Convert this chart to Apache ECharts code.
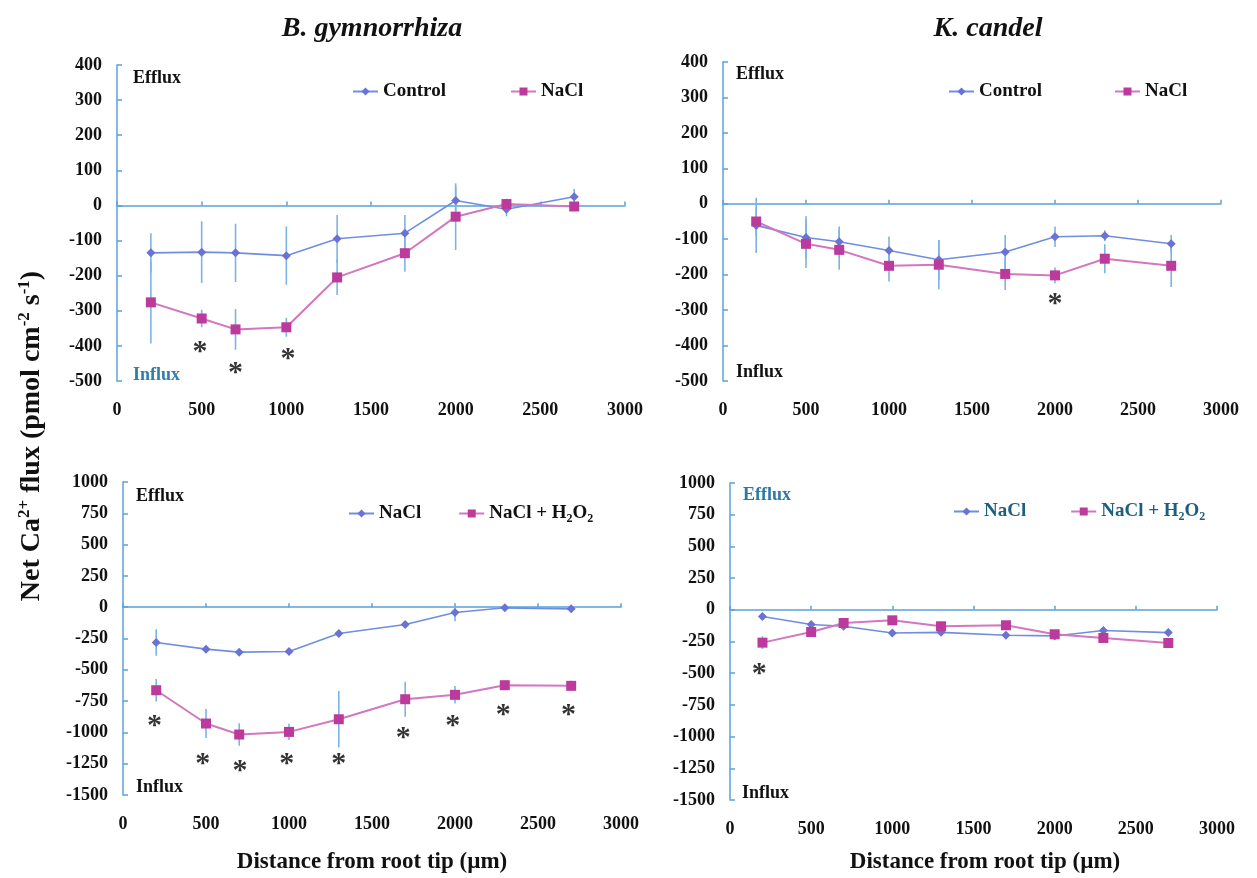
<!DOCTYPE html>
<html>
<head>
<meta charset="utf-8">
<script src="https://cdn.jsdelivr.net/npm/echarts@6/dist/echarts.min.js"></script>
<style>
html,body{margin:0;padding:0;background:#fff;}
#chart{width:1257px;height:878px;}
</style>
</head>
<body>
<div id="chart"></div>
<script>
// ---------------- data ----------------
const distances = [200, 500, 700, 1000, 1300, 1700, 2000, 2300, 2700];

// B. gymnorrhiza, Control vs NaCl
const bgControl    = [-135, -133, -135, -143, -95, -79, 14, -11, 25];
const bgControlErr = [56, 88, 83, 83, 68, 52, 40, 20, 22];
const bgNaCl       = [-276, -322, -353, -347, -205, -136, -32, 4, -3];
const bgNaClErr    = [117, 25, 58, 27, 50, 52, 95, 15, 10];

// K. candel, Control vs NaCl
const kcControl    = [-61, -95, -107, -132, -158, -136, -93, -90, -113];
const kcControlErr = [78, 60, 43, 40, 56, 48, 29, 15, 25];
const kcNaCl       = [-50, -113, -130, -175, -172, -198, -202, -155, -175];
const kcNaClErr    = [40, 68, 56, 44, 69, 45, 22, 41, 60];

// B. gymnorrhiza, NaCl vs NaCl + H2O2
const bgNaCl2      = [-282, -335, -359, -354, -210, -138, -42, -5, -13];
const bgNaCl2Err   = [105, 20, 20, 20, 20, 20, 70, 10, 10];
const bgH2O2       = [-663, -929, -1017, -996, -895, -735, -700, -623, -628];
const bgH2O2Err    = [90, 115, 90, 65, 225, 140, 70, 30, 40];

// K. candel, NaCl vs NaCl + H2O2
const kcNaCl2      = [-53, -116, -130, -183, -178, -201, -206, -163, -180];
const kcNaCl2Err   = [20, 25, 20, 20, 25, 20, 25, 25, 30];
const kcH2O2       = [-259, -175, -104, -83, -130, -122, -193, -222, -262];
const kcH2O2Err    = [50, 40, 25, 30, 30, 30, 30, 40, 40];

// significance asterisks [distance, flux]
const sig1 = [[490, -400], [700, -460], [1010, -420]];
const sig2 = [[2000, -266]];
const sig3 = [[190, -903], [480, -1209], [705, -1262], [986, -1209], [1299, -1209], [1689, -996], [1986, -903], [2291, -815], [2683, -815]];
const sig4 = [[180, -464]];

// ---------------- styling ----------------
const FONT = '"Liberation Serif", "Times New Roman", serif';
const AXIS = '#5aa3dc';
const BLUE_LINE = '#6f8ee0', BLUE_MARK = '#6a72d2';
const MAG_LINE = '#d277c0', MAG_MARK = '#bc3a9c';
const ERR = '#7db3e3';

const grids = [
  {left: 117, top: 65, width: 508, height: 316},
  {left: 723, top: 62, width: 498, height: 319},
  {left: 123, top: 482, width: 498, height: 313},
  {left: 730, top: 483, width: 487, height: 317}
];
const yRanges = [
  {min: -500, max: 400, interval: 100},
  {min: -500, max: 400, interval: 100},
  {min: -1500, max: 1000, interval: 250},
  {min: -1500, max: 1000, interval: 250}
];
const plain = v => String(v);

const xAxis = [], yAxis = [];
grids.forEach((g, i) => {
  xAxis.push({
    type: 'value', gridIndex: i, min: 0, max: 3000, interval: 500, position: 'bottom',
    axisLine: {show: false, onZero: false}, axisTick: {show: false}, splitLine: {show: false},
    axisLabel: {margin: 20, formatter: plain, fontFamily: FONT, fontWeight: 'bold', fontSize: 18, color: '#111'}
  });
  xAxis.push({
    type: 'value', gridIndex: i, min: 0, max: 3000, interval: 500, position: 'top',
    axisLine: {show: true, onZero: true, lineStyle: {color: AXIS, width: 1.5}},
    axisTick: {show: true, inside: false, length: 4, lineStyle: {color: AXIS, width: 1.5}},
    axisLabel: {show: false}, splitLine: {show: false}
  });
  yAxis.push(Object.assign({
    type: 'value', gridIndex: i,
    axisLine: {show: true, onZero: false, lineStyle: {color: AXIS, width: 1.5}},
    axisTick: {show: true, inside: true, length: 5, lineStyle: {color: AXIS, width: 1.5}},
    splitLine: {show: false},
    axisLabel: {margin: 15, formatter: plain, fontFamily: FONT, fontWeight: 'bold', fontSize: 18, color: '#111'}
  }, yRanges[i]));
});

function pairs(vals) { return distances.map((d, k) => [d, vals[k]]); }
function triples(vals, errs) { return distances.map((d, k) => [d, vals[k], errs[k]]); }

function lineSeries(name, gi, vals, blue) {
  return {
    type: 'line', name: name, xAxisIndex: gi * 2, yAxisIndex: gi,
    data: pairs(vals), z: 3,
    symbol: blue ? 'diamond' : 'rect', symbolSize: blue ? 9 : 10,
    lineStyle: {color: blue ? BLUE_LINE : MAG_LINE, width: blue ? 1.6 : 2},
    itemStyle: {color: blue ? BLUE_MARK : MAG_MARK},
    animation: false
  };
}
function errSeries(gi, vals, errs) {
  return {
    type: 'custom', xAxisIndex: gi * 2, yAxisIndex: gi, z: 1, silent: true,
    data: triples(vals, errs), encode: {x: 0, y: 1},
    renderItem: function (params, api) {
      const x = api.value(0), y = api.value(1), e = api.value(2);
      const a = api.coord([x, y + e]), b = api.coord([x, y - e]);
      return {type: 'line', shape: {x1: a[0], y1: a[1], x2: b[0], y2: b[1]},
              style: {stroke: ERR, lineWidth: 1.6}};
    },
    animation: false
  };
}
function sigSeries(gi, pts) {
  return {
    type: 'scatter', xAxisIndex: gi * 2, yAxisIndex: gi, z: 4, silent: true,
    data: pts, symbolSize: 1, itemStyle: {color: 'rgba(0,0,0,0)'},
    label: {show: true, position: 'inside', formatter: '*', fontFamily: FONT,
            fontWeight: 'bold', fontSize: 30, color: '#000', offset: [0, 6]},
    animation: false
  };
}

const series = [
  errSeries(0, bgControl, bgControlErr), errSeries(0, bgNaCl, bgNaClErr),
  lineSeries('Control', 0, bgControl, true), lineSeries('NaCl', 0, bgNaCl, false), sigSeries(0, sig1),
  errSeries(1, kcControl, kcControlErr), errSeries(1, kcNaCl, kcNaClErr),
  lineSeries('Control', 1, kcControl, true), lineSeries('NaCl', 1, kcNaCl, false), sigSeries(1, sig2),
  errSeries(2, bgNaCl2, bgNaCl2Err), errSeries(2, bgH2O2, bgH2O2Err),
  lineSeries('NaCl (b)', 2, bgNaCl2, true), lineSeries('NaCl + H2O2', 2, bgH2O2, false), sigSeries(2, sig3),
  errSeries(3, kcNaCl2, kcNaCl2Err), errSeries(3, kcH2O2, kcH2O2Err),
  lineSeries('NaCl (b)', 3, kcNaCl2, true), lineSeries('NaCl + H2O2', 3, kcH2O2, false), sigSeries(3, sig4)
];

function legendFmt(name) {
  if (name === 'NaCl + H2O2') return '{t|NaCl + H}{s|2}{t|O}{s|2}';
  if (name === 'NaCl (b)') return '{t|NaCl}';
  return '{t|' + name + '}';
}
function makeLegend(left, top, gap, data, color) {
  return {
    left: left, top: top, itemGap: gap, itemWidth: 25, itemHeight: 10, padding: 0,
    selectedMode: false, data: data, formatter: legendFmt,
    textStyle: {
      color: color,
      rich: {
        t: {fontFamily: FONT, fontWeight: 'bold', fontSize: 19, lineHeight: 22, color: color},
        s: {fontFamily: FONT, fontWeight: 'bold', fontSize: 12, lineHeight: 12, verticalAlign: 'bottom', color: color}
      }
    }
  };
}

function txt(x, y, text, size, color, extra) {
  return {
    type: 'text', x: x, y: y, silent: true,
    style: Object.assign({text: text, fill: color, font: 'bold ' + size + 'px ' + FONT,
                          align: 'left', verticalAlign: 'middle'}, (extra || {}))
  };
}

const graphic = [
  txt(372, 29, 'B. gymnorrhiza', 28, '#111', {align: 'center', font: 'italic bold 28px ' + FONT}),
  txt(988, 29, 'K. candel', 28, '#111', {align: 'center', font: 'italic bold 28px ' + FONT}),
  txt(133, 78, 'Efflux', 18, '#111'),
  txt(133, 375, 'Influx', 18, '#2e7dab'),
  txt(736, 74, 'Efflux', 18, '#111'),
  txt(736, 372, 'Influx', 18, '#111'),
  txt(136, 496, 'Efflux', 18, '#111'),
  txt(136, 787, 'Influx', 18, '#111'),
  txt(743, 495, 'Efflux', 18, '#2a7aa8'),
  txt(742, 793, 'Influx', 18, '#111'),
  txt(372, 862, 'Distance from root tip (\u00b5m)', 23, '#111', {align: 'center'}),
  txt(985, 862, 'Distance from root tip (\u00b5m)', 23, '#111', {align: 'center'}),
  {
    type: 'text', x: 32, y: 436, rotation: Math.PI / 2, silent: true,
    style: {
      text: '{m|Net Ca}{p|2+}{m| flux (pmol cm}{p|-2}{m| s}{p|-1}{m|)}',
      align: 'center', verticalAlign: 'middle',
      rich: {
        m: {fontFamily: FONT, fontWeight: 'bold', fontSize: 28, lineHeight: 32, fill: '#111'},
        p: {fontFamily: FONT, fontWeight: 'bold', fontSize: 17, lineHeight: 17, verticalAlign: 'top', fill: '#111'}
      }
    }
  }
];

const option = {
  backgroundColor: '#ffffff',
  animation: false,
  grid: grids,
  xAxis: xAxis,
  yAxis: yAxis,
  legend: [
    makeLegend(352, 82, 64, ['Control', 'NaCl'], '#111'),
    makeLegend(948, 82, 72, ['Control', 'NaCl'], '#111'),
    makeLegend(348, 504, 37, ['NaCl (b)', 'NaCl + H2O2'], '#111'),
    makeLegend(953, 502, 44, ['NaCl (b)', 'NaCl + H2O2'], '#1d5f7e')
  ],
  graphic: graphic,
  series: series
};

const chart = echarts.init(document.getElementById('chart'), null, {renderer: 'canvas'});
chart.setOption(option);
</script>
</body>
</html>
